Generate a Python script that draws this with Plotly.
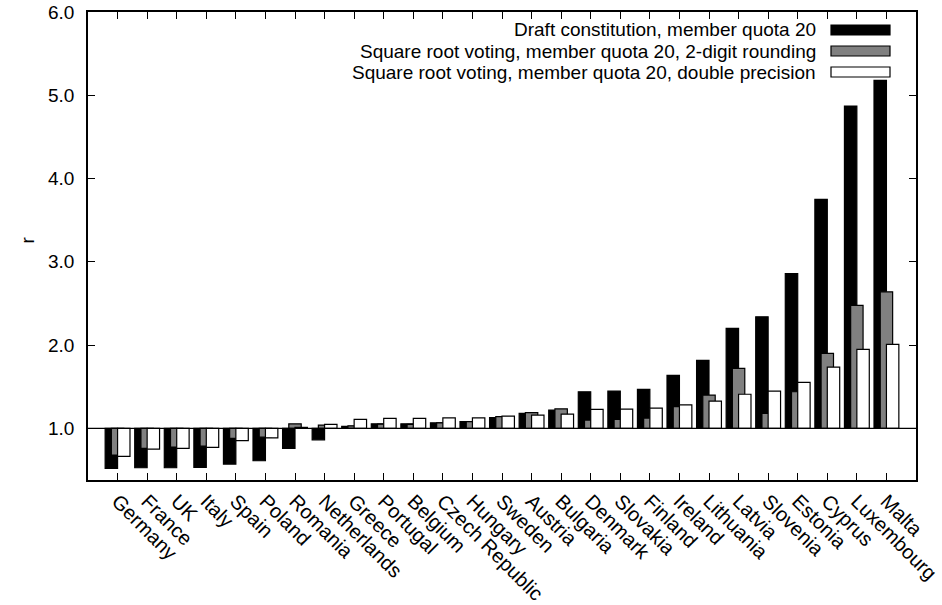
import plotly.graph_objects as go

# Data
countries = ["Germany", "France", "UK", "Italy", "Spain", "Poland", "Romania",
             "Netherlands", "Greece", "Portugal", "Belgium", "Czech Republic",
             "Hungary", "Sweden", "Austria", "Bulgaria", "Denmark", "Slovakia",
             "Finland", "Ireland", "Lithuania", "Latvia", "Slovenia", "Estonia",
             "Cyprus", "Luxembourg", "Malta"]

draft_constitution = [0.52, 0.527, 0.527, 0.532, 0.571, 0.611, 0.76, 0.863, 1.024,
                      1.055, 1.055, 1.067, 1.08, 1.13, 1.18, 1.22, 1.44, 1.448,
                      1.468, 1.636, 1.816, 2.20, 2.34, 2.86, 3.75, 4.87, 5.18]
sqrt_rounding = [0.68, 0.76, 0.776, 0.787, 0.88, 0.895, 1.055, 1.04, 1.03,
                 1.05, 1.048, 1.065, 1.08, 1.14, 1.19, 1.235, 1.10, 1.108,
                 1.124, 1.26, 1.40, 1.72, 1.18, 1.44, 1.90, 2.476, 2.64]
sqrt_double = [0.664, 0.751, 0.76, 0.772, 0.852, 0.887, 1.012, 1.048, 1.108,
               1.12, 1.12, 1.127, 1.125, 1.148, 1.16, 1.17, 1.228, 1.232,
               1.244, 1.283, 1.328, 1.41, 1.448, 1.552, 1.736, 1.948, 2.008]

series_names = ["Draft constitution, member quota 20",
                "Square root voting, member quota 20, 2-digit rounding",
                "Square root voting, member quota 20, double precision"]
series_colors = ["#000000", "#808080", "#ffffff"]

W, H = 942, 605
L, R, T, B = 88, 26, 12, 125
FONT = "Liberation Sans, Arial, sans-serif"
FS = 19


# pixel position -> paper coords
def px_x(p):
    return (p - L) / (W - L - R)


def px_y(p):
    return (H - B - p) / (H - T - B)


fig = go.Figure()

bw = 0.42
offsets = [-bw, -bw / 2, 0]
for name, vals, col, off in zip(series_names,
                                [draft_constitution, sqrt_rounding, sqrt_double],
                                series_colors, offsets):
    fig.add_trace(go.Bar(
        x=countries, y=[v - 1 for v in vals], base=1,
        width=bw, offset=off, name=name,
        marker=dict(color=col, line=dict(color="black", width=1.2)),
        showlegend=False,
    ))

# baseline at r = 1
fig.add_hline(y=1, line=dict(color="black", width=1.2), layer="above")

# hand-made key: text right aligned, sample box on the right
rows = [30, 51, 72]
for name, col, yp in zip(series_names, series_colors, rows):
    fig.add_annotation(x=px_x(818), y=px_y(yp), xref="paper", yref="paper",
                       text=name, showarrow=False, xanchor="right", yanchor="middle",
                       font=dict(size=FS, color="black", family=FONT))
    fig.add_shape(type="rect", xref="paper", yref="paper",
                  x0=px_x(831), x1=px_x(890), y0=px_y(yp + 5), y1=px_y(yp - 5),
                  fillcolor=col, line=dict(color="black", width=1.2))

fig.add_annotation(x=px_x(14), y=px_y(240), xref="paper", yref="paper",
                   text="r", showarrow=False, textangle=-90,
                   font=dict(size=FS, color="black", family=FONT))

fig.update_layout(
    width=W, height=H,
    margin=dict(l=L, r=R, t=T, b=B),
    barmode="overlay",
    plot_bgcolor="white", paper_bgcolor="white",
    font=dict(family=FONT, size=FS, color="black"),
    showlegend=False,
)
fig.update_xaxes(type="category", range=[-1, 27], showgrid=False, zeroline=False,
                 showline=True, linecolor="black", linewidth=1.5, mirror="ticks",
                 ticks="inside", ticklen=7, tickcolor="black", tickwidth=1.2,
                 tickangle=45, tickfont=dict(size=20), automargin=False)
fig.update_yaxes(range=[0.38, 6.0], tickvals=[1, 2, 3, 4, 5, 6], tickformat=".1f",
                 showgrid=False, zeroline=False,
                 showline=True, linecolor="black", linewidth=1.5, mirror="ticks",
                 ticks="inside", ticklen=7, tickcolor="black", tickwidth=1.2,
                 ticklabelstandoff=8, tickfont=dict(size=FS), automargin=False)

# drop the default body margin so the figure sits at the window corner
fig.write_html("out.html", config={"displayModeBar": False},
               post_script="document.body.style.margin='0';")
